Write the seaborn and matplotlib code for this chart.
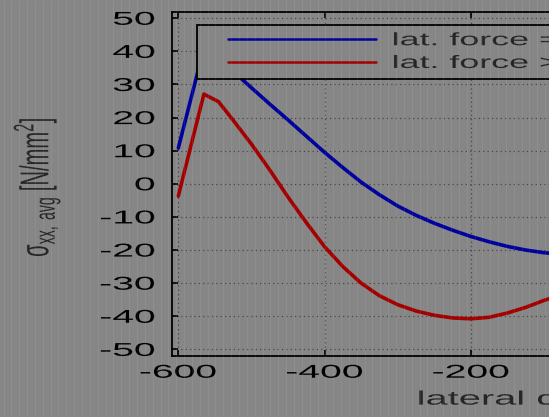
import numpy as np
import pandas as pd
import matplotlib
matplotlib.use("Agg")
import matplotlib.pyplot as plt
import seaborn as sns
from matplotlib.lines import Line2D
from matplotlib.legend_handler import HandlerLine2D
from matplotlib.patheffects import AbstractPathEffect
from matplotlib.transforms import Affine2D

# lateral position [mm] and averaged longitudinal stress [N/mm^2]
lateral_pos = [-600, -565, -545, -525, -500, -475, -450, -425, -400, -375, -350,
               -325, -300, -275, -250, -225, -200, -175, -150, -125, -100, -75]
sigma_force_zero = [10.8, 41.0, 38.0, 34.0, 29.0, 24.1, 19.3, 14.4, 9.5, 4.9, 0.5,
                    -3.3, -6.7, -9.5, -11.9, -14.0, -15.9, -17.5, -18.9, -20.0, -20.8, -21.3]
sigma_force_pos = [-3.7, 27.1, 24.8, 19.2, 12.0, 4.2, -4.0, -11.7, -19.0, -25.0, -30.0,
                   -33.8, -36.5, -38.4, -39.7, -40.5, -40.75, -40.3, -39.0, -37.3, -35.2, -33.4]
series_labels = ["lat. force = 0", "lat. force > 0"]
series_colors = ["#00009c", "#a30000"]
x_ticks = [-600, -400, -200, 0]
y_ticks = list(range(-50, 51, 10))

BG = "#868686"


class Widen(AbstractPathEffect):
    """Draw text glyphs stretched horizontally about one edge of their ink box."""

    def __init__(self, factor, anchor="left"):
        super().__init__()
        self.factor = factor
        self.anchor = anchor

    def draw_path(self, renderer, gc, tpath, affine, rgbFace=None):
        ext = tpath.get_extents(affine)
        if self.anchor == "left":
            x0 = ext.x0
        elif self.anchor == "right":
            x0 = ext.x1
        else:
            x0 = 0.5 * (ext.x0 + ext.x1)
        stretch = Affine2D().translate(-x0, 0).scale(self.factor, 1.0).translate(x0, 0)
        renderer.draw_path(gc, tpath, affine + stretch, rgbFace)


sns.set_style("ticks")
plt.rcParams["font.family"] = ["Liberation Sans", "DejaVu Sans"]
plt.rcParams["mathtext.fontset"] = "custom"
plt.rcParams["mathtext.rm"] = "Liberation Sans"
plt.rcParams["mathtext.it"] = "Liberation Sans:italic"
plt.rcParams["mathtext.bf"] = "Liberation Sans:bold"
plt.rcParams["axes.unicode_minus"] = False

df = pd.concat([
    pd.DataFrame({"pos": lateral_pos, "sigma": sigma_force_zero, "case": series_labels[0]}),
    pd.DataFrame({"pos": lateral_pos, "sigma": sigma_force_pos, "case": series_labels[1]}),
], ignore_index=True)

W, H = 549, 417
fig = plt.figure(figsize=(W / 100, H / 100), dpi=100)
fig.patch.set_facecolor(BG)

ax_w, ax_h = 445.2, 343.4
ax = fig.add_axes([172 / W, 61.3 / H, ax_w / W, ax_h / H])
ax.set_facecolor(BG)

sns.lineplot(data=df, x="pos", y="sigma", hue="case",
             palette=dict(zip(series_labels, series_colors)),
             estimator=None, errorbar=None, linewidth=2.6, ax=ax)

ax.set_xlim(-608.6, 0)
ax.set_ylim(-51.9, 51.8)
ax.set_xticks(x_ticks)
ax.set_yticks(y_ticks)

for s in ax.spines.values():
    s.set_visible(True)
    s.set_color("black")
    s.set_linewidth(1.3)

ax.tick_params(direction="in", length=4, width=1.2, top=True, right=True,
               labelsize=13.4, colors="black")
ax.tick_params(axis="y", pad=12.2)
ax.tick_params(axis="x", pad=6.5)
ax.grid(True, color="#474747", linestyle=(0, (1, 2.5)), linewidth=0.9)

ax.set_xlabel("lateral distance [mm]", fontsize=14)
ax.xaxis.label.set(ha="left", va="top")
ax.xaxis.set_label_coords((418 - 172) / ax_w, (25.4 - 61.3) / ax_h)

ax.set_ylabel(r"σ$_{\mathrm{xx,\ avg}}$ [N/mm$^{2}$]", fontsize=14.5)
ax.yaxis.label.set(ha="center", va="center")
ax.yaxis.set_label_coords((37 - 172) / ax_w, (230 - 61.3) / ax_h)

handles, labels = ax.get_legend_handles_labels()
leg = ax.legend(handles, labels, loc="upper left",
                bbox_to_anchor=(25 / ax_w, 0, 3.0, 1 - 12.4 / ax_h),
                mode="expand", borderaxespad=0, fontsize=12.9,
                borderpad=0.42, labelspacing=0.32, handlelength=10.86,
                handletextpad=-0.35, numpoints=2,
                handler_map={Line2D: HandlerLine2D(marker_pad=1.3)},
                frameon=True, fancybox=False, framealpha=1,
                facecolor=BG, edgecolor="black", title=None)
leg.get_frame().set_linewidth(1.3)
for h in leg.legend_handles:
    h.set_linewidth(1.8)

# faint vertical banding across the sheet
for xs in np.arange(3.5, W, 7.85):
    fig.add_artist(Line2D([xs / W, xs / W], [0, 1], transform=fig.transFigure,
                          color="white", alpha=0.07, lw=0.8, zorder=10))

fig.canvas.draw()
for t in ax.get_yticklabels():
    t.set_path_effects([Widen(2.1, "right")])
for t in ax.get_xticklabels():
    t.set_path_effects([Widen(2.1, "center")])
for t in leg.get_texts():
    t.set_path_effects([Widen(2.0, "left")])
ax.xaxis.label.set_path_effects([Widen(2.05, "left")])
ax.yaxis.label.set_path_effects([Widen(2.0, "center")])

fig.savefig("out.png", dpi=100, facecolor=BG)
